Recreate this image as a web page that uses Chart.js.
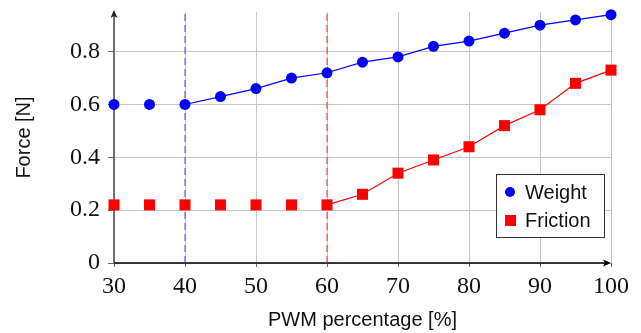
<!DOCTYPE html>
<html><head><meta charset="utf-8">
<script src="https://cdn.jsdelivr.net/npm/chart.js@4/dist/chart.umd.min.js"></script>
<style>html,body{margin:0;padding:0;background:#fff;overflow:hidden;}</style>
</head><body>
<canvas id="c" width="641" height="333" style="display:block;width:641px;height:333px"></canvas>
<script>
// ---- data ----
const pwm      = [30, 35, 40, 45, 50, 55, 60, 65, 70, 75, 80, 85, 90, 95, 100];
const weight   = [0.60, 0.60, 0.60, 0.63, 0.66, 0.70, 0.72, 0.76, 0.78, 0.82, 0.84, 0.87, 0.90, 0.92, 0.94];
const friction = [0.22, 0.22, 0.22, 0.22, 0.22, 0.22, 0.22, 0.26, 0.34, 0.39, 0.44, 0.52, 0.58, 0.68, 0.73];
const seriesNames = ['Weight', 'Friction'];
const lineStarts  = [40, 60];          // dashed markers; each series' line starts here
const xRange = [30, 100];
const yRange = [0, 0.95];
const xStep = 10, yStep = 0.2;

const serif = "'Liberation Serif', 'Times New Roman', serif";
const sans  = "'Liberation Sans', Arial, sans-serif";

const toPts = (xs, ys) => xs.map((x, i) => ({x, y: ys[i]}));
const vline = x => [{x, y: yRange[0]}, {x, y: yRange[1]}];

const axesPlugin = {
  id: 'axes',
  beforeDatasetsDraw(chart) {
    const {ctx, chartArea: a} = chart;
    ctx.save();
    // left axis
    ctx.strokeStyle = '#555'; ctx.fillStyle = '#222'; ctx.lineWidth = 1.6;
    ctx.beginPath(); ctx.moveTo(a.left, a.bottom); ctx.lineTo(a.left, a.top); ctx.stroke();
    ctx.beginPath();
    ctx.moveTo(a.left, a.top - 2);
    ctx.lineTo(a.left - 3.5, a.top + 6);
    ctx.lineTo(a.left, a.top + 4);
    ctx.lineTo(a.left + 3.5, a.top + 6);
    ctx.closePath(); ctx.fill();
    // bottom axis
    ctx.strokeStyle = '#000'; ctx.fillStyle = '#000'; ctx.lineWidth = 1.4;
    ctx.beginPath(); ctx.moveTo(a.left, a.bottom); ctx.lineTo(a.right - 2, a.bottom); ctx.stroke();
    ctx.beginPath();
    ctx.moveTo(a.right, a.bottom);
    ctx.lineTo(a.right - 8, a.bottom - 3.5);
    ctx.lineTo(a.right - 6, a.bottom);
    ctx.lineTo(a.right - 8, a.bottom + 3.5);
    ctx.closePath(); ctx.fill();
    ctx.restore();
  }
};

const legendPlugin = {
  id: 'boxLegend',
  afterDatasetsDraw(chart) {
    const {ctx} = chart;
    const x0 = 496, y0 = 174, w = 108, h = 63;
    ctx.save();
    ctx.fillStyle = '#fff'; ctx.fillRect(x0, y0, w, h);
    ctx.strokeStyle = '#333'; ctx.lineWidth = 1; ctx.strokeRect(x0 + 0.5, y0 + 0.5, w, h);
    ctx.font = '20px ' + sans; ctx.textBaseline = 'alphabetic'; ctx.textAlign = 'left';
    const ds = chart.data.datasets;
    ctx.fillStyle = ds[0].backgroundColor;
    ctx.beginPath(); ctx.arc(x0 + 14, y0 + 18, 5, 0, Math.PI * 2); ctx.fill();
    ctx.fillStyle = ds[1].backgroundColor;
    ctx.fillRect(x0 + 9, y0 + 41, 11, 11);
    ctx.fillStyle = '#111';
    ctx.fillText(seriesNames[0], x0 + 29, y0 + 25);
    ctx.fillText(seriesNames[1], x0 + 29, y0 + 53);
    ctx.restore();
  }
};

new Chart(document.getElementById('c'), {
  type: 'line',
  data: {
    datasets: [
      {
        label: seriesNames[0], data: toPts(pwm, weight),
        borderColor: '#0000ff', backgroundColor: '#0000ff', borderWidth: 1.2,
        pointStyle: 'circle', pointRadius: 5.5, pointBorderWidth: 0, clip: false,
        segment: { borderColor: c => c.p0.parsed.x < lineStarts[0] ? 'rgba(0,0,0,0)' : undefined }
      },
      {
        label: seriesNames[1], data: toPts(pwm, friction),
        borderColor: '#ff0000', backgroundColor: '#ff0000', borderWidth: 1.2,
        pointStyle: 'rect', pointRadius: 7.8, pointBorderWidth: 0, clip: false,
        segment: { borderColor: c => c.p0.parsed.x < lineStarts[1] ? 'rgba(0,0,0,0)' : undefined }
      },
      {
        label: 'm1', data: vline(lineStarts[0]), borderColor: 'rgba(40,40,255,0.65)',
        borderWidth: 1.3, borderDash: [7, 4], pointRadius: 0
      },
      {
        label: 'm2', data: vline(lineStarts[1]), borderColor: 'rgba(225,40,40,0.7)',
        borderWidth: 1.3, borderDash: [7, 4], pointRadius: 0
      }
    ]
  },
  options: {
    responsive: false, animation: false, devicePixelRatio: 1,
    layout: { padding: { left: 0, top: 12, right: 30, bottom: 0 } },
    plugins: { legend: { display: false }, tooltip: { enabled: false } },
    scales: {
      x: {
        type: 'linear', min: xRange[0], max: xRange[1],
        ticks: { stepSize: xStep, font: { family: serif, size: 24 }, color: '#111', padding: 5, maxRotation: 0 },
        grid: { color: '#c6c6c6', lineWidth: 1, tickLength: 4, tickColor: '#666' },
        border: { display: false },
        title: { display: true, text: 'PWM percentage [%]', font: { family: sans, size: 20 }, color: '#111', padding: { top: 0, bottom: 1 } },
        afterFit: s => { s.height = 70; s.paddingLeft = 0; s.paddingRight = 0; }
      },
      y: {
        min: yRange[0], max: yRange[1],
        ticks: { stepSize: yStep, includeBounds: false, font: { family: serif, size: 24 }, color: '#111', padding: 8,
                 callback: v => v === 0 ? '0' : v.toFixed(1) },
        grid: { color: '#c6c6c6', lineWidth: 1, tickLength: 6, tickColor: '#666' },
        border: { display: false },
        title: { display: true, text: 'Force [N]', font: { family: sans, size: 20 }, color: '#111', padding: { top: 12.5, bottom: 0 } },
        afterFit: s => { s.width = 114; s.paddingTop = 0; s.paddingBottom = 0; }
      }
    }
  },
  plugins: [axesPlugin, legendPlugin]
});
</script>
</body></html>
